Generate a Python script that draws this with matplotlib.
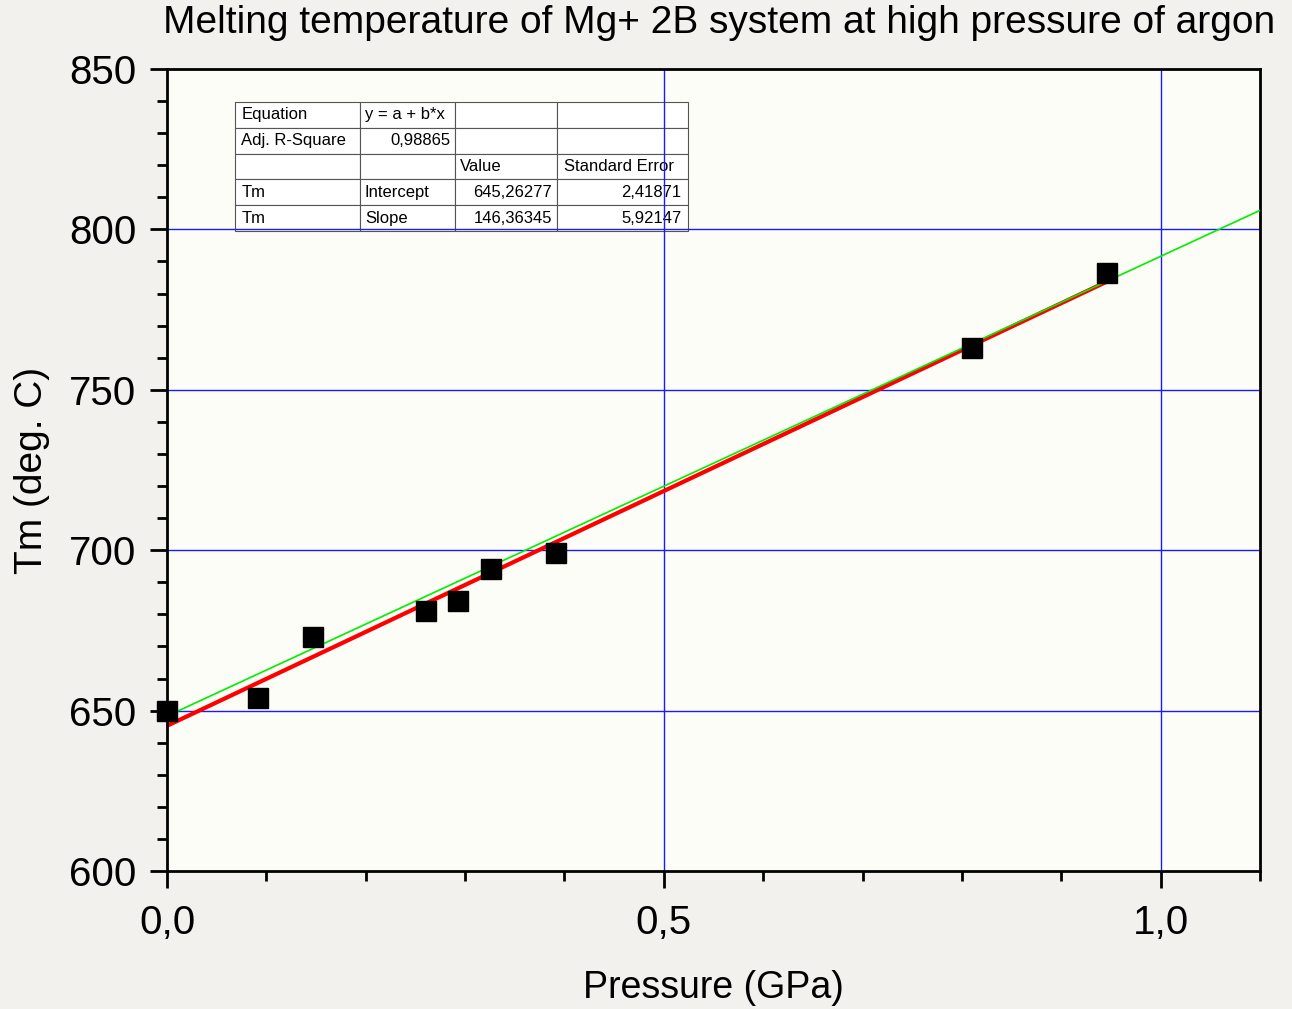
import matplotlib.pyplot as plt
import numpy as np
from matplotlib.ticker import MultipleLocator, FuncFormatter

plt.rcParams['font.family'] = ['Liberation Sans', 'DejaVu Sans']

# measured points
pressure = [0.0, 0.092, 0.147, 0.261, 0.293, 0.326, 0.391, 0.810, 0.946]
tm = [650.0, 654.0, 673.0, 681.0, 684.2, 694.1, 699.1, 763.0, 786.4]

# linear fit reported in the table
intercept = 645.26277
slope = 146.36345
# second (green) line over the full range
green_a = 648.3
green_b = 143.3
green_range = [0.0, 1.1]

table_rows = [
    ["Equation", "y = a + b*x", "", ""],
    ["Adj. R-Square", "0,98865", "", ""],
    ["", "", "Value", "Standard Error"],
    ["Tm", "Intercept", "645,26277", "2,41871"],
    ["Tm", "Slope", "146,36345", "5,92147"],
]

fig = plt.figure(figsize=(12.92, 10.09), dpi=100, facecolor='#f3f1ee')
ax = fig.add_axes([0.1293, 0.1368, 0.8459, 0.7948])
ax.set_facecolor('#fdfdf7')

ax.set_xlim(0, 1.1)
ax.set_ylim(600, 850)

# grid lines
for gx in [0.5, 1.0]:
    ax.axvline(gx, color='#1a1aff', lw=1.0, zorder=1)
for gy in [650, 700, 750, 800]:
    ax.axhline(gy, color='#1a1aff', lw=1.0, zorder=1)

xg = np.array(green_range)
ax.plot(xg, green_a + green_b * xg, color='#00ee00', lw=1.2, zorder=3)

xr = np.array([min(pressure), max(pressure)])
ax.plot(xr, intercept + slope * xr, color='#ff0000', lw=3.0, zorder=2,
        solid_capstyle='butt')

ax.plot(pressure, tm, 's', color='black', ms=14, zorder=4, clip_on=False)

comma = FuncFormatter(lambda v, p: f"{v:.1f}".replace('.', ','))
ax.xaxis.set_major_locator(MultipleLocator(0.5))
ax.xaxis.set_minor_locator(MultipleLocator(0.1))
ax.xaxis.set_major_formatter(comma)
ax.yaxis.set_major_locator(MultipleLocator(50))
ax.yaxis.set_minor_locator(MultipleLocator(10))

ax.tick_params(axis='both', which='major', direction='out', length=12, width=2,
               labelsize=29)
ax.tick_params(axis='x', which='major', pad=12)
ax.tick_params(axis='y', which='major', pad=10)
ax.tick_params(axis='both', which='minor', direction='out', length=7, width=2)
ax.tick_params(top=False, right=False)
for s in ax.spines.values():
    s.set_linewidth(2)

ax.set_xlabel("Pressure (GPa)", fontsize=27, labelpad=20)
ax.set_ylabel("Tm (deg. C)", fontsize=28, labelpad=14)
ax.set_title("Melting temperature of Mg+ 2B system at high pressure of argon",
             fontsize=28, pad=26, x=0.505)

tbl = ax.table(cellText=table_rows, bbox=[0.0622, 0.798, 0.4145, 0.161],
               colWidths=[125, 95, 102, 131], cellLoc='left')
tbl.auto_set_font_size(False)
tbl.set_fontsize(12)
for (r, c), cell in tbl.get_celld().items():
    cell.set_facecolor('white')
    cell.set_edgecolor('#555555')
    cell.set_linewidth(0.8)
    txt = cell.get_text().get_text()
    if txt and (txt[0].isdigit()):
        cell.get_text().set_horizontalalignment('right')
        cell._loc = 'right'
    cell.PAD = 0.05

fig.savefig("out.png", dpi=100, facecolor=fig.get_facecolor())
